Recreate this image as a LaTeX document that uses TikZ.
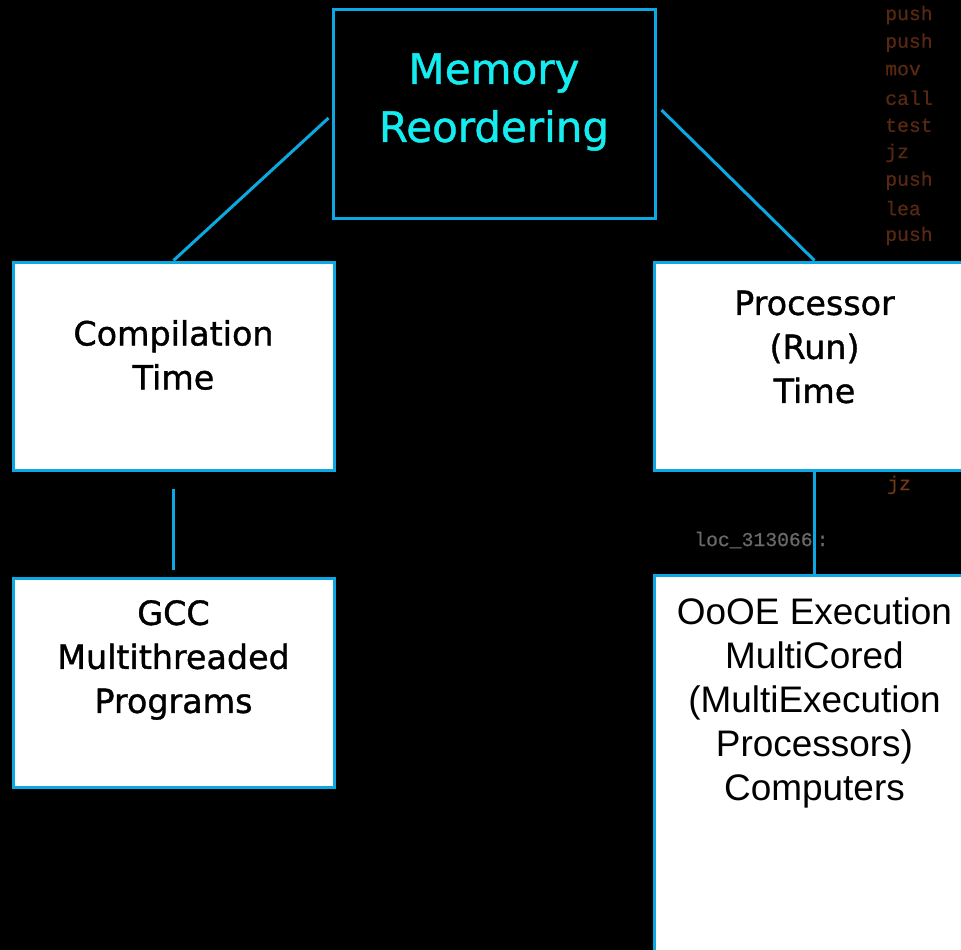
\documentclass[tikz,border=0pt]{standalone}
\usepackage{fontspec}
\setmainfont{DejaVu Sans}
\newfontfamily\boxf[FakeBold=1.1]{DejaVu Sans}
\newfontfamily\arialf{Liberation Sans}
\newfontfamily\monof[FakeBold=0.6]{Liberation Mono}
\definecolor{lineblue}{RGB}{12,168,226}
\definecolor{cyantext}{RGB}{20,236,240}
\definecolor{asmbrown}{RGB}{88,40,16}
\definecolor{asmorange}{RGB}{112,56,20}
\definecolor{asmgray}{RGB}{105,105,105}
\tikzset{
  box/.style={draw=lineblue, line width=2.25pt, inner sep=0pt, minimum width=321*0.75pt},
  conn/.style={draw=lineblue, line width=2.25pt},
  bigtxt/.style={align=center, inner sep=0pt, text=cyantext, font=\boxf\fontsize{31.5}{43.5}\selectfont},
  midtxt/.style={align=center, inner sep=0pt, text=black, font=\boxf\fontsize{25}{33}\selectfont},
  ariatxt/.style={align=center, inner sep=0pt, text=black, font=\arialf\fontsize{27.7}{33}\selectfont},
  asm/.style={anchor=west, inner sep=0pt, text=asmbrown, font=\monof\fontsize{14.8}{14.8}\selectfont}
}
\begin{document}
\begin{tikzpicture}[x=0.75pt,y=-0.75pt]
\useasboundingbox (0,0) rectangle (961,950);
\fill[black] (0,0) rectangle (961,950);
\begin{scope}
\clip (0,0) rectangle (961,950);
% background disassembly text
\foreach \w [count=\i] in {push,push,mov,call,test,jz,push,lea,push}
  \node[asm] (asm\i) at (885,{15+27.6*(\i-1)}) {\w};
\node[asm, text=asmorange] (asmjz) at (887,485) {jz};
\node[asm, text=asmgray] (asmloc) at (694,540) {loc\_313066\hspace{3pt}:};

% boxes
\node[box, fill=black, minimum width=322*0.75pt, minimum height=209*0.75pt] (mem) at (494,113.5) {};
\node[box, fill=white, minimum height=208*0.75pt] (comp) at (173.5,366) {};
\node[box, fill=white, minimum height=209*0.75pt] (gcc) at (173.5,682.5) {};
\node[box, fill=white, minimum height=208*0.75pt] (proc) at (814.5,366) {};
\node[box, fill=white, minimum height=410*0.75pt] (ooo) at (814.5,780) {};

% texts
\node[bigtxt] (memtxt) at (494,102) {Memory\\Reordering};
\node[midtxt] (comptxt) at (173.5,355) {Compilation\\Time};
\node[midtxt] (gcctxt) at (173.5,660) {GCC\\Multithreaded\\Programs};
\node[midtxt] (proctxt) at (814.5,347) {Processor\\(Run)\\Time};
\node[ariatxt] (ooetxt) at (814.5,703) {OoOE Execution\\MultiCored\\(MultiExecution\\Processors)\\Computers};

% connectors
\draw[conn] ([xshift=-2.25pt,yshift=-3.4pt]mem.west) -- (comp.north);
\draw[conn] ([xshift=3.75pt,yshift=2.6pt]mem.east) -- (proc.north);
\draw[conn, shorten >=5.25pt, shorten <=12.75pt] (comp.south) -- (gcc.north);
\draw[conn] (proc.south) -- (ooo.north);
\end{scope}
\end{tikzpicture}
\end{document}
